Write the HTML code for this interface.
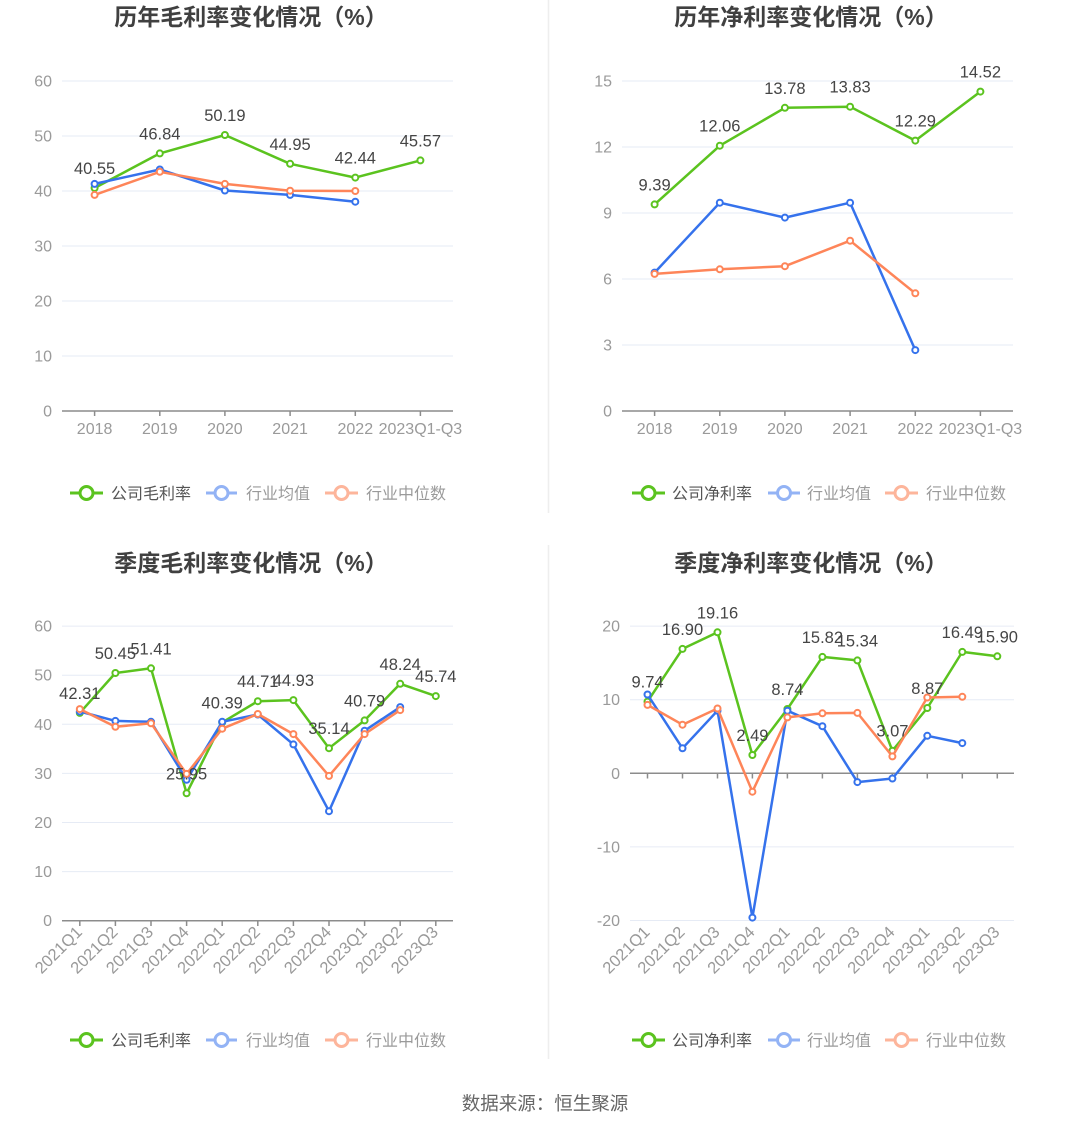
<!DOCTYPE html>
<html>
<head>
<meta charset="utf-8">
<style>
html,body{margin:0;padding:0;background:#fff;}
svg{display:block;}
text{font-family:"Liberation Sans","Noto Sans CJK SC",sans-serif;}
.t{font-size:23px;font-weight:bold;fill:#404040;}
.yl{font-size:16px;fill:#9a9a9a;}
.xl{font-size:16px;fill:#9a9a9a;}
.xr{font-size:16.5px;fill:#9a9a9a;}
.dl{font-size:16.5px;fill:#454545;}
.lg{font-size:16px;}
.g{stroke:#e6ebf5;stroke-width:1;}
.ax{stroke:#8c8c8c;stroke-width:1.5;}
</style>
</head>
<body>
<svg width="1090" height="1129" viewBox="0 0 1090 1129" xmlns="http://www.w3.org/2000/svg">
<defs>
<marker id="mg" markerWidth="10" markerHeight="10" refX="5" refY="5" markerUnits="userSpaceOnUse"><circle cx="5" cy="5" r="3" fill="#fff" stroke="#5bc31f" stroke-width="2"/></marker>
<marker id="mb" markerWidth="10" markerHeight="10" refX="5" refY="5" markerUnits="userSpaceOnUse"><circle cx="5" cy="5" r="3" fill="#fff" stroke="#3572ec" stroke-width="2"/></marker>
<marker id="mo" markerWidth="10" markerHeight="10" refX="5" refY="5" markerUnits="userSpaceOnUse"><circle cx="5" cy="5" r="3" fill="#fff" stroke="#fe8559" stroke-width="2"/></marker>
</defs>

<!-- dividers -->
<line x1="548.5" y1="0" x2="548.5" y2="513" stroke="#eeeeee" stroke-width="1.5"/>
<line x1="548.5" y1="545" x2="548.5" y2="1059" stroke="#eeeeee" stroke-width="1.5"/>

<!-- ============ CHART 1 ============ -->
<text class="t" x="251" y="25" text-anchor="middle">历年毛利率变化情况（%）</text>
<g>
<line class="g" x1="62" y1="81" x2="453" y2="81"/>
<line class="g" x1="62" y1="136" x2="453" y2="136"/>
<line class="g" x1="62" y1="191" x2="453" y2="191"/>
<line class="g" x1="62" y1="246" x2="453" y2="246"/>
<line class="g" x1="62" y1="301" x2="453" y2="301"/>
<line class="g" x1="62" y1="356" x2="453" y2="356"/>
<line class="ax" x1="62" y1="411" x2="453" y2="411"/>
<g class="ax">
<line x1="94.6" y1="411" x2="94.6" y2="416"/><line x1="159.8" y1="411" x2="159.8" y2="416"/><line x1="224.9" y1="411" x2="224.9" y2="416"/><line x1="290.1" y1="411" x2="290.1" y2="416"/><line x1="355.3" y1="411" x2="355.3" y2="416"/><line x1="420.4" y1="411" x2="420.4" y2="416"/>
</g>
<g class="yl" text-anchor="end">
<text x="52" y="86.5">60</text><text x="52" y="141.5">50</text><text x="52" y="196.5">40</text><text x="52" y="251.5">30</text><text x="52" y="306.5">20</text><text x="52" y="361.5">10</text><text x="52" y="416.5">0</text>
</g>
<g class="xl" text-anchor="middle">
<text x="94.6" y="434">2018</text><text x="159.8" y="434">2019</text><text x="224.9" y="434">2020</text><text x="290.1" y="434">2021</text><text x="355.3" y="434">2022</text><text x="420.4" y="434">2023Q1-Q3</text>
</g>
<polyline fill="none" stroke="#5bc31f" stroke-width="2.5" stroke-linejoin="round" marker-start="url(#mg)" marker-mid="url(#mg)" marker-end="url(#mg)" points="94.6,188.0 159.8,153.4 224.9,135.0 290.1,163.8 355.3,177.6 420.4,160.4"/>
<polyline fill="none" stroke="#3572ec" stroke-width="2.5" stroke-linejoin="round" marker-start="url(#mb)" marker-mid="url(#mb)" marker-end="url(#mb)" points="94.6,183.9 159.8,169.5 224.9,190.5 290.1,194.9 355.3,201.7"/>
<polyline fill="none" stroke="#fe8559" stroke-width="2.5" stroke-linejoin="round" marker-start="url(#mo)" marker-mid="url(#mo)" marker-end="url(#mo)" points="94.6,194.9 159.8,171.8 224.9,183.9 290.1,190.7 355.3,191.0"/>
<g class="dl" text-anchor="middle">
<text x="94.6" y="174">40.55</text><text x="159.8" y="139.4">46.84</text><text x="224.9" y="121">50.19</text><text x="290.1" y="149.8">44.95</text><text x="355.3" y="163.6">42.44</text><text x="420.4" y="146.4">45.57</text>
</g>
</g>
<!-- legend 1 -->
<g>
<line x1="70" y1="493" x2="103" y2="493" stroke="#5bc31f" stroke-width="3"/><circle cx="86.5" cy="493" r="6.5" fill="#fff" stroke="#5bc31f" stroke-width="3"/>
<text class="lg" x="111" y="499" fill="#555">公司毛利率</text>
<line x1="206" y1="493" x2="237" y2="493" stroke="#93b3f5" stroke-width="3"/><circle cx="221.5" cy="493" r="6.5" fill="#fff" stroke="#93b3f5" stroke-width="3"/>
<text class="lg" x="246" y="499" fill="#9a9a9a">行业均值</text>
<line x1="325" y1="493" x2="358" y2="493" stroke="#fdb59b" stroke-width="3"/><circle cx="341.5" cy="493" r="6.5" fill="#fff" stroke="#fdb59b" stroke-width="3"/>
<text class="lg" x="366" y="499" fill="#9a9a9a">行业中位数</text>
</g>

<!-- ============ CHART 2 ============ -->
<text class="t" x="811" y="25" text-anchor="middle">历年净利率变化情况（%）</text>
<g>
<line class="g" x1="622" y1="81" x2="1013" y2="81"/>
<line class="g" x1="622" y1="147" x2="1013" y2="147"/>
<line class="g" x1="622" y1="213" x2="1013" y2="213"/>
<line class="g" x1="622" y1="279" x2="1013" y2="279"/>
<line class="g" x1="622" y1="345" x2="1013" y2="345"/>
<line class="ax" x1="622" y1="411" x2="1013" y2="411"/>
<g class="ax">
<line x1="654.6" y1="411" x2="654.6" y2="416"/><line x1="719.8" y1="411" x2="719.8" y2="416"/><line x1="784.9" y1="411" x2="784.9" y2="416"/><line x1="850.1" y1="411" x2="850.1" y2="416"/><line x1="915.3" y1="411" x2="915.3" y2="416"/><line x1="980.4" y1="411" x2="980.4" y2="416"/>
</g>
<g class="yl" text-anchor="end">
<text x="612" y="86.5">15</text><text x="612" y="152.5">12</text><text x="612" y="218.5">9</text><text x="612" y="284.5">6</text><text x="612" y="350.5">3</text><text x="612" y="416.5">0</text>
</g>
<g class="xl" text-anchor="middle">
<text x="654.6" y="434">2018</text><text x="719.8" y="434">2019</text><text x="784.9" y="434">2020</text><text x="850.1" y="434">2021</text><text x="915.3" y="434">2022</text><text x="980.4" y="434">2023Q1-Q3</text>
</g>
<polyline fill="none" stroke="#5bc31f" stroke-width="2.5" stroke-linejoin="round" marker-start="url(#mg)" marker-mid="url(#mg)" marker-end="url(#mg)" points="654.6,204.4 719.8,145.7 784.9,107.8 850.1,106.7 915.3,140.6 980.4,91.6"/>
<polyline fill="none" stroke="#3572ec" stroke-width="2.5" stroke-linejoin="round" marker-start="url(#mb)" marker-mid="url(#mb)" marker-end="url(#mb)" points="654.6,272.6 719.8,202.7 784.9,217.6 850.1,202.7 915.3,350.1"/>
<polyline fill="none" stroke="#fe8559" stroke-width="2.5" stroke-linejoin="round" marker-start="url(#mo)" marker-mid="url(#mo)" marker-end="url(#mo)" points="654.6,273.9 719.8,269.3 784.9,266.2 850.1,240.7 915.3,293.3"/>
<g class="dl" text-anchor="middle">
<text x="654.6" y="190.4">9.39</text><text x="719.8" y="131.7">12.06</text><text x="784.9" y="93.8">13.78</text><text x="850.1" y="92.7">13.83</text><text x="915.3" y="126.6">12.29</text><text x="980.4" y="77.6">14.52</text>
</g>
</g>
<!-- legend 2 -->
<g>
<line x1="632" y1="493" x2="665" y2="493" stroke="#5bc31f" stroke-width="3"/><circle cx="648.5" cy="493" r="6.5" fill="#fff" stroke="#5bc31f" stroke-width="3"/>
<text class="lg" x="672" y="499" fill="#555">公司净利率</text>
<line x1="768" y1="493" x2="800" y2="493" stroke="#93b3f5" stroke-width="3"/><circle cx="784" cy="493" r="6.5" fill="#fff" stroke="#93b3f5" stroke-width="3"/>
<text class="lg" x="807" y="499" fill="#9a9a9a">行业均值</text>
<line x1="885" y1="493" x2="918" y2="493" stroke="#fdb59b" stroke-width="3"/><circle cx="901.5" cy="493" r="6.5" fill="#fff" stroke="#fdb59b" stroke-width="3"/>
<text class="lg" x="926" y="499" fill="#9a9a9a">行业中位数</text>
</g>

<!-- ============ CHART 3 ============ -->
<text class="t" x="251" y="571" text-anchor="middle">季度毛利率变化情况（%）</text>
<g>
<line class="g" x1="62" y1="626.1" x2="453" y2="626.1"/>
<line class="g" x1="62" y1="675.2" x2="453" y2="675.2"/>
<line class="g" x1="62" y1="724.3" x2="453" y2="724.3"/>
<line class="g" x1="62" y1="773.4" x2="453" y2="773.4"/>
<line class="g" x1="62" y1="822.5" x2="453" y2="822.5"/>
<line class="g" x1="62" y1="871.6" x2="453" y2="871.6"/>
<line class="ax" x1="62" y1="920.7" x2="453" y2="920.7"/>
<g class="ax">
<line x1="79.8" y1="920.7" x2="79.8" y2="926"/><line x1="115.4" y1="920.7" x2="115.4" y2="926"/><line x1="151" y1="920.7" x2="151" y2="926"/><line x1="186.6" y1="920.7" x2="186.6" y2="926"/><line x1="222.2" y1="920.7" x2="222.2" y2="926"/><line x1="257.8" y1="920.7" x2="257.8" y2="926"/><line x1="293.4" y1="920.7" x2="293.4" y2="926"/><line x1="329" y1="920.7" x2="329" y2="926"/><line x1="364.6" y1="920.7" x2="364.6" y2="926"/><line x1="400.2" y1="920.7" x2="400.2" y2="926"/><line x1="435.8" y1="920.7" x2="435.8" y2="926"/>
</g>
<g class="yl" text-anchor="end">
<text x="52" y="631.6">60</text><text x="52" y="680.7">50</text><text x="52" y="729.8">40</text><text x="52" y="778.9">30</text><text x="52" y="828">20</text><text x="52" y="877.1">10</text><text x="52" y="926.2">0</text>
</g>
<g class="xr" text-anchor="end">
<text transform="translate(79,929) rotate(-45)" dy="0.35em">2021Q1</text>
<text transform="translate(114.6,929) rotate(-45)" dy="0.35em">2021Q2</text>
<text transform="translate(150.2,929) rotate(-45)" dy="0.35em">2021Q3</text>
<text transform="translate(185.8,929) rotate(-45)" dy="0.35em">2021Q4</text>
<text transform="translate(221.4,929) rotate(-45)" dy="0.35em">2022Q1</text>
<text transform="translate(257,929) rotate(-45)" dy="0.35em">2022Q2</text>
<text transform="translate(292.6,929) rotate(-45)" dy="0.35em">2022Q3</text>
<text transform="translate(328.2,929) rotate(-45)" dy="0.35em">2022Q4</text>
<text transform="translate(363.8,929) rotate(-45)" dy="0.35em">2023Q1</text>
<text transform="translate(399.4,929) rotate(-45)" dy="0.35em">2023Q2</text>
<text transform="translate(435,929) rotate(-45)" dy="0.35em">2023Q3</text>
</g>
<polyline fill="none" stroke="#5bc31f" stroke-width="2.5" stroke-linejoin="round" marker-start="url(#mg)" marker-mid="url(#mg)" marker-end="url(#mg)" points="79.8,712.9 115.4,673.0 151.0,668.3 186.6,793.3 222.2,722.4 257.8,701.2 293.4,700.1 329.0,748.2 364.6,720.4 400.2,683.8 435.8,696.1"/>
<polyline fill="none" stroke="#3572ec" stroke-width="2.5" stroke-linejoin="round" marker-start="url(#mb)" marker-mid="url(#mb)" marker-end="url(#mb)" points="79.8,711.5 115.4,720.9 151.0,721.8 186.6,779.8 222.2,721.8 257.8,714.5 293.4,744.4 329.0,811.2 364.6,730.7 400.2,707.1"/>
<polyline fill="none" stroke="#fe8559" stroke-width="2.5" stroke-linejoin="round" marker-start="url(#mo)" marker-mid="url(#mo)" marker-end="url(#mo)" points="79.8,709.1 115.4,726.8 151.0,723.3 186.6,773.9 222.2,728.7 257.8,714.0 293.4,734.1 329.0,775.9 364.6,734.1 400.2,710.1"/>
<g class="dl" text-anchor="middle">
<text x="79.8" y="698.9">42.31</text><text x="115.4" y="659">50.45</text><text x="151" y="654.3">51.41</text><text x="186.6" y="779.3">25.95</text><text x="222.2" y="708.4">40.39</text><text x="257.8" y="687.2">44.71</text><text x="293.4" y="686.1">44.93</text><text x="329" y="734.2">35.14</text><text x="364.6" y="706.4">40.79</text><text x="400.2" y="669.8">48.24</text><text x="435.8" y="682.1">45.74</text>
</g>
</g>
<!-- legend 3 -->
<g>
<line x1="70" y1="1040" x2="103" y2="1040" stroke="#5bc31f" stroke-width="3"/><circle cx="86.5" cy="1040" r="6.5" fill="#fff" stroke="#5bc31f" stroke-width="3"/>
<text class="lg" x="111" y="1046" fill="#555">公司毛利率</text>
<line x1="206" y1="1040" x2="237" y2="1040" stroke="#93b3f5" stroke-width="3"/><circle cx="221.5" cy="1040" r="6.5" fill="#fff" stroke="#93b3f5" stroke-width="3"/>
<text class="lg" x="246" y="1046" fill="#9a9a9a">行业均值</text>
<line x1="325" y1="1040" x2="358" y2="1040" stroke="#fdb59b" stroke-width="3"/><circle cx="341.5" cy="1040" r="6.5" fill="#fff" stroke="#fdb59b" stroke-width="3"/>
<text class="lg" x="366" y="1046" fill="#9a9a9a">行业中位数</text>
</g>

<!-- ============ CHART 4 ============ -->
<text class="t" x="811" y="571" text-anchor="middle">季度净利率变化情况（%）</text>
<g>
<line class="g" x1="630" y1="626.1" x2="1014" y2="626.1"/>
<line class="g" x1="630" y1="699.7" x2="1014" y2="699.7"/>
<line class="g" x1="630" y1="846.9" x2="1014" y2="846.9"/>
<line class="g" x1="630" y1="920.5" x2="1014" y2="920.5"/>
<line class="ax" x1="630" y1="773.3" x2="1014" y2="773.3"/>
<g class="ax">
<line x1="647.5" y1="773.3" x2="647.5" y2="778.5"/><line x1="682.5" y1="773.3" x2="682.5" y2="778.5"/><line x1="717.5" y1="773.3" x2="717.5" y2="778.5"/><line x1="752.4" y1="773.3" x2="752.4" y2="778.5"/><line x1="787.4" y1="773.3" x2="787.4" y2="778.5"/><line x1="822.4" y1="773.3" x2="822.4" y2="778.5"/><line x1="857.4" y1="773.3" x2="857.4" y2="778.5"/><line x1="892.4" y1="773.3" x2="892.4" y2="778.5"/><line x1="927.3" y1="773.3" x2="927.3" y2="778.5"/><line x1="962.3" y1="773.3" x2="962.3" y2="778.5"/><line x1="997.3" y1="773.3" x2="997.3" y2="778.5"/>
</g>
<g class="yl" text-anchor="end">
<text x="620" y="631.6">20</text><text x="620" y="705.2">10</text><text x="620" y="778.8">0</text><text x="620" y="852.4">-10</text><text x="620" y="926">-20</text>
</g>
<g class="xr" text-anchor="end">
<text transform="translate(646.7,929) rotate(-45)" dy="0.35em">2021Q1</text>
<text transform="translate(681.7,929) rotate(-45)" dy="0.35em">2021Q2</text>
<text transform="translate(716.7,929) rotate(-45)" dy="0.35em">2021Q3</text>
<text transform="translate(751.6,929) rotate(-45)" dy="0.35em">2021Q4</text>
<text transform="translate(786.6,929) rotate(-45)" dy="0.35em">2022Q1</text>
<text transform="translate(821.6,929) rotate(-45)" dy="0.35em">2022Q2</text>
<text transform="translate(856.6,929) rotate(-45)" dy="0.35em">2022Q3</text>
<text transform="translate(891.6,929) rotate(-45)" dy="0.35em">2022Q4</text>
<text transform="translate(926.5,929) rotate(-45)" dy="0.35em">2023Q1</text>
<text transform="translate(961.5,929) rotate(-45)" dy="0.35em">2023Q2</text>
<text transform="translate(996.5,929) rotate(-45)" dy="0.35em">2023Q3</text>
</g>
<polyline fill="none" stroke="#5bc31f" stroke-width="2.5" stroke-linejoin="round" marker-start="url(#mg)" marker-mid="url(#mg)" marker-end="url(#mg)" points="647.5,701.6 682.5,648.9 717.5,632.3 752.4,755.0 787.4,709.0 822.4,656.9 857.4,660.4 892.4,750.7 927.3,708.0 962.3,651.9 997.3,656.3"/>
<polyline fill="none" stroke="#3572ec" stroke-width="2.5" stroke-linejoin="round" marker-start="url(#mb)" marker-mid="url(#mb)" marker-end="url(#mb)" points="647.5,694.5 682.5,748.3 717.5,710.7 752.4,917.6 787.4,710.7 822.4,726.2 857.4,782.1 892.4,778.5 927.3,735.8 962.3,743.1"/>
<polyline fill="none" stroke="#fe8559" stroke-width="2.5" stroke-linejoin="round" marker-start="url(#mo)" marker-mid="url(#mo)" marker-end="url(#mo)" points="647.5,704.9 682.5,724.7 717.5,708.5 752.4,791.7 787.4,717.4 822.4,713.3 857.4,712.9 892.4,756.4 927.3,697.5 962.3,696.8"/>
<g class="dl" text-anchor="middle">
<text x="647.5" y="687.6">9.74</text><text x="682.5" y="634.9">16.90</text><text x="717.5" y="618.3">19.16</text><text x="752.4" y="741">2.49</text><text x="787.4" y="695">8.74</text><text x="822.4" y="642.9">15.82</text><text x="857.4" y="646.4">15.34</text><text x="892.4" y="736.7">3.07</text><text x="927.3" y="694">8.87</text><text x="962.3" y="637.9">16.49</text><text x="997.3" y="642.3">15.90</text>
</g>
</g>
<!-- legend 4 -->
<g>
<line x1="632" y1="1040" x2="665" y2="1040" stroke="#5bc31f" stroke-width="3"/><circle cx="648.5" cy="1040" r="6.5" fill="#fff" stroke="#5bc31f" stroke-width="3"/>
<text class="lg" x="672" y="1046" fill="#555">公司净利率</text>
<line x1="768" y1="1040" x2="800" y2="1040" stroke="#93b3f5" stroke-width="3"/><circle cx="784" cy="1040" r="6.5" fill="#fff" stroke="#93b3f5" stroke-width="3"/>
<text class="lg" x="807" y="1046" fill="#9a9a9a">行业均值</text>
<line x1="885" y1="1040" x2="918" y2="1040" stroke="#fdb59b" stroke-width="3"/><circle cx="901.5" cy="1040" r="6.5" fill="#fff" stroke="#fdb59b" stroke-width="3"/>
<text class="lg" x="926" y="1046" fill="#9a9a9a">行业中位数</text>
</g>

<!-- footer -->
<text x="545" y="1110" text-anchor="middle" font-size="18.5" fill="#666">数据来源：恒生聚源</text>
</svg>
</body>
</html>
